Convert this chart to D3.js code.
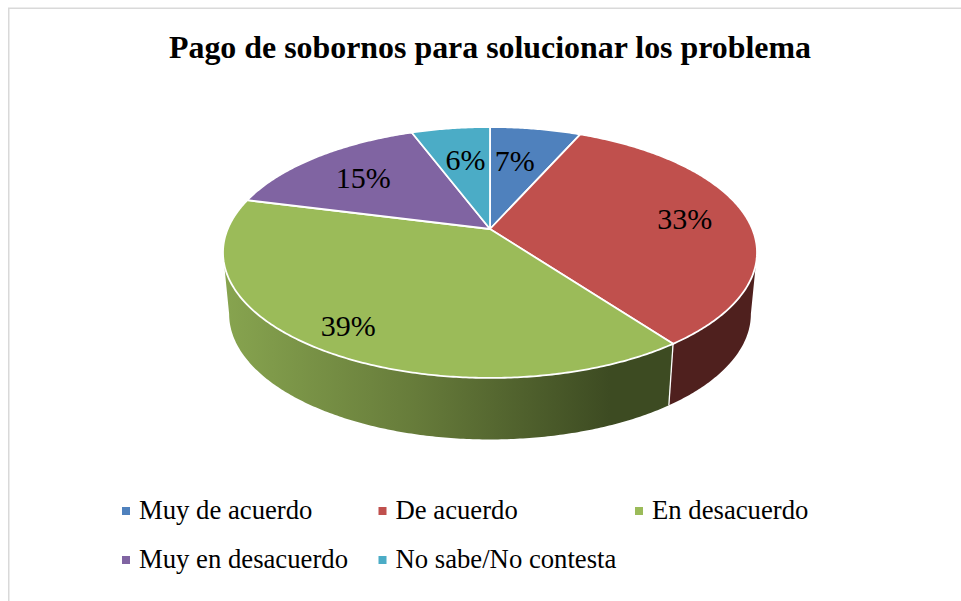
<!DOCTYPE html>
<html><head><meta charset="utf-8">
<script src="https://cdn.jsdelivr.net/npm/d3@7"></script>
<style>html,body{margin:0;padding:0;background:#fff}svg{display:block}text{font-family:"Liberation Serif",serif;fill:#000}</style>
</head><body><div id="c"></div>
<script>
const titleText = "Pago de sobornos para solucionar los problema";
const categories = ["Muy de acuerdo","De acuerdo","En desacuerdo","Muy en desacuerdo","No sabe/No contesta"];
const values = [6.6,33.3,39.1,15.3,5.7];
const labels = ["7%","33%","39%","15%","6%"];
const colors = ["#4f81bd","#c0504d","#9bbb59","#8064a2","#4bacc6"];
const labelRadius = [0.636,0.755,0.84,0.683,0.647];
const labelShift = [-6,1,0,-4,2.5];

const W=961,H=601;
const svg=d3.select("#c").append("svg").attr("width",W).attr("height",H);
const defs=svg.append("defs");
const grad=defs.append("linearGradient").attr("id","gw").attr("gradientUnits","userSpaceOnUse")
  .attr("x1",225).attr("x2",610).attr("y1",0).attr("y2",0);
grad.append("stop").attr("offset",0).attr("stop-color","#87a44f");
grad.append("stop").attr("offset",0.5).attr("stop-color","#667b3a");
grad.append("stop").attr("offset",1).attr("stop-color","#3d4b22");

svg.append("path").attr("d",`M8.75,${H}V8.25H${W}`).attr("fill","none").attr("stroke","#d9d9d9").attr("stroke-width",1.5);

svg.append("text").attr("x",490).attr("y",58).attr("text-anchor","middle")
  .attr("font-size",31.9).attr("font-weight","bold").text(titleText);

// perspective projection of the unit disc
const x0=490,y0=229,Rx=262.3,Ry=121.1,k=0.187,depth=61.5,shrink=0.977;
function proj(r,a){const u=r*Math.sin(a),v=r*Math.cos(a),d=1+k*v;return [x0+Rx*u/d,y0-Ry*v/d];}
function low(p){return [x0+(p[0]-x0)*shrink,p[1]+depth];}
const pie=d3.pie().sort(null).value(d=>d)(values);
const line=d3.line();
function arcPts(a0,a1){const n=Math.max(2,Math.ceil((a1-a0)/0.01));
  return d3.range(n+1).map(i=>proj(1,a0+(a1-a0)*i/n));}

// side wall: the visible rim runs between the two silhouette angles of the projected disc
const silA=Math.acos(-k), silB=2*Math.PI-silA;
const wallFill=["#2f4d71","#4f201e","url(#gw)","#4c3c61","#2c6676"];
const g=svg.append("g");
[1,2].forEach(i=>{
  const a0=Math.max(pie[i].startAngle,silA),a1=Math.min(pie[i].endAngle,silB);
  const pts=arcPts(a0,a1);
  g.append("path").attr("d",line(pts.concat(pts.map(low).reverse()))+"Z").attr("fill",wallFill[i]);
});
const seam=proj(1,pie[1].endAngle);
g.append("path").attr("d",line([seam,low(seam)])).attr("stroke","#fff").attr("stroke-width",1.3).attr("fill","none");

// top faces
pie.forEach((s,i)=>{
  g.append("path").attr("d",line([[x0,y0],...arcPts(s.startAngle,s.endAngle)])+"Z").attr("fill",colors[i])
   .attr("stroke","#fff").attr("stroke-width",1.8).attr("stroke-linejoin","round");
});

// data labels
pie.forEach((s,i)=>{
  const p=proj(labelRadius[i],(s.startAngle+s.endAngle)/2);
  g.append("text").attr("x",p[0]+labelShift[i]).attr("y",p[1]+10).attr("text-anchor","middle").attr("font-size",30).text(labels[i]);
});

// legend
const colX=d3.scaleOrdinal().domain([0,1,2]).range([122,378.5,635]);
const rowY=d3.scaleOrdinal().domain([0,1]).range([519,568]);
const lg=svg.append("g");
categories.forEach((c,i)=>{
  const cx=colX(i%3),cy=rowY(Math.floor(i/3));
  lg.append("rect").attr("x",cx).attr("y",cy-12).attr("width",8).attr("height",8).attr("fill",colors[i]);
  lg.append("text").attr("x",cx+17).attr("y",cy).attr("font-size",26.7).text(c);
});
</script></body></html>
